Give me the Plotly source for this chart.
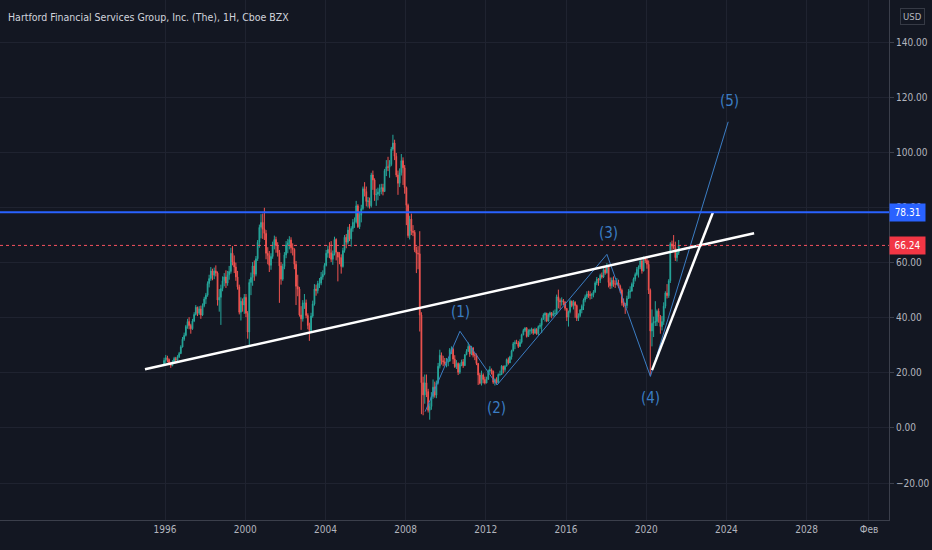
import datetime as dt
import plotly.graph_objects as go

# ---------------- data (monthly candles) ----------------
START_YEAR, START_MONTH = 1995, 12
FIRST_OPEN = 23.0
closes = [
    24.5,
    25.5, 24.8, 23.5, 22.6, 24.0, 25.2, 24.6, 25.8, 27.0, 29.4, 32.2, 33.6,
    36.8, 38.6, 37.2, 36.0, 38.8, 41.2, 43.8, 41.6, 43.2, 41.0, 44.4, 46.8,
    48.2, 52.4, 54.2, 57.0, 55.4, 57.0, 56.2, 46.4, 47.4, 50.6, 53.4, 54.8,
    52.6, 55.6, 56.8, 63.4, 60.2, 58.4, 54.8, 51.2, 42.0, 46.0, 44.6, 47.4,
    41.6, 34.8, 52.8, 54.6, 58.8, 55.8, 61.4, 67.4, 72.8, 74.6, 72.2, 70.6,
    63.4, 62.6, 59.0, 62.2, 66.4, 68.4, 66.2, 63.6, 58.8, 54.0, 58.6, 62.8,
    66.4, 67.2, 68.2, 65.4, 64.8, 59.4, 51.4, 50.4, 41.0, 39.6, 45.4, 45.4,
    40.8, 37.2, 35.4, 40.6, 45.0, 50.4, 49.8, 52.4, 52.6, 54.8, 55.8, 59.0,
    63.4, 64.8, 63.6, 61.2, 63.2, 68.4, 63.8, 62.0, 61.8, 58.6, 64.4, 69.2,
    67.4, 71.8, 68.6, 72.4, 74.6, 74.8, 80.6, 73.0, 77.2, 79.6, 86.8, 85.8,
    82.2, 82.4, 80.6, 91.8, 90.0, 84.6, 84.8, 85.6, 86.8, 87.2, 85.8, 93.4,
    94.8, 94.6, 95.6, 101.2, 103.4, 98.6, 91.8, 88.8, 92.6, 97.0, 94.4, 87.2,
    80.8, 69.8, 75.8, 71.4, 71.0, 64.6, 63.4, 63.2, 41.0, 16.4, 12.0, 16.4,
    13.2, 6.4, 7.8, 11.4, 14.8, 11.9, 16.4, 22.4, 26.4, 24.4, 24.0, 23.4,
    24.0, 24.2, 28.4, 28.6, 25.0, 22.2, 23.4, 20.2, 23.0, 24.0, 22.6, 26.6,
    27.8, 29.6, 26.9, 29.0, 26.4, 26.4, 23.4, 19.2, 16.2, 19.2, 17.6, 16.3,
    17.6, 20.6, 21.1, 20.6, 16.6, 17.6, 16.4, 19.4, 19.4, 22.4, 21.2, 22.4,
    24.8, 23.6, 25.8, 28.0, 30.6, 30.9, 30.8, 29.6, 31.1, 33.8, 35.4, 36.2,
    33.2, 35.2, 35.3, 35.8, 34.4, 35.8, 34.2, 36.8, 37.2, 39.6, 41.0, 41.6,
    38.8, 41.0, 41.8, 40.8, 41.4, 41.6, 47.6, 46.2, 45.8, 46.2, 45.6, 43.4,
    40.2, 42.2, 46.0, 44.4, 45.6, 44.4, 39.8, 40.8, 42.8, 44.2, 46.4, 47.6,
    48.6, 48.4, 48.1, 48.4, 49.4, 52.6, 54.0, 53.6, 55.4, 54.8, 57.4, 56.3,
    58.8, 52.8, 51.6, 53.6, 52.2, 52.2, 52.6, 51.4, 50.0, 45.4, 44.4, 44.4,
    47.0, 49.4, 49.7, 52.2, 54.0, 55.7, 57.6, 58.4, 60.6, 57.0, 61.8, 60.8,
    59.4, 50.0, 35.2, 38.0, 38.4, 38.6, 42.4, 40.4, 36.8, 38.6, 44.2, 49.0,
    48.0, 53.4, 66.8, 66.0, 65.4, 61.8, 63.6, 66.24,
]
highs = [
    25.5,
    26.5, 26.2, 25.2, 24.0, 24.6, 25.8, 25.8, 26.4, 27.6, 30.0, 33.0, 34.6,
    37.4, 39.6, 40.2, 37.8, 39.6, 42.0, 44.6, 44.0, 44.2, 44.4, 45.2, 47.6,
    49.0, 53.2, 55.6, 58.4, 57.8, 58.2, 59.0, 56.8, 50.4, 52.0, 55.0, 56.2,
    57.2, 57.0, 58.8, 65.4, 66.0, 62.6, 60.0, 57.0, 52.0, 47.4, 47.0, 48.6,
    48.6, 42.4, 54.0, 56.4, 60.2, 60.8, 62.4, 68.2, 73.8, 77.6, 77.8, 79.9,
    71.8, 65.6, 64.2, 63.4, 67.6, 69.8, 69.4, 67.4, 64.6, 60.2, 59.6, 63.8,
    67.8, 68.6, 69.6, 69.2, 67.0, 65.2, 60.6, 55.6, 51.2, 44.2, 46.4, 48.6,
    46.6, 41.6, 38.2, 41.8, 46.2, 52.2, 52.0, 53.4, 54.4, 56.6, 57.2, 59.8,
    64.6, 66.2, 67.4, 67.8, 64.4, 69.4, 68.8, 63.6, 63.8, 63.0, 65.4, 70.0,
    70.4, 73.0, 74.0, 73.2, 75.8, 76.4, 82.4, 81.2, 78.0, 81.0, 87.6, 89.2,
    87.6, 83.8, 83.6, 92.6, 93.4, 90.6, 86.8, 87.2, 88.4, 88.6, 88.6, 94.0,
    97.2, 98.4, 97.2, 102.0, 106.4, 104.6, 99.8, 93.4, 94.2, 99.4, 98.2, 95.4,
    87.6, 81.4, 77.0, 77.8, 73.6, 71.8, 65.8, 66.0, 71.4, 42.0, 18.6, 19.4,
    19.4, 14.2, 9.0, 13.0, 17.6, 16.8, 17.2, 23.6, 28.4, 27.4, 26.2, 25.4,
    25.4, 25.2, 29.0, 29.6, 29.2, 26.4, 24.6, 23.8, 23.6, 24.8, 25.0, 26.8,
    28.6, 31.0, 30.0, 29.8, 29.4, 27.2, 27.0, 23.6, 20.0, 20.8, 19.8, 18.6,
    18.6, 21.2, 22.4, 21.6, 20.8, 18.0, 18.4, 19.8, 20.8, 22.8, 22.6, 22.8,
    25.2, 25.6, 26.2, 28.4, 31.2, 31.8, 32.0, 31.6, 32.2, 34.2, 36.0, 36.6,
    36.6, 35.8, 36.0, 36.4, 36.0, 36.4, 36.2, 37.2, 38.0, 40.0, 41.6, 42.0,
    41.8, 41.6, 42.2, 42.0, 42.6, 43.0, 48.4, 50.2, 47.0, 47.4, 46.8, 46.0,
    43.4, 42.6, 46.6, 46.2, 46.4, 46.0, 44.8, 41.6, 43.2, 44.8, 47.0, 48.4,
    49.6, 49.8, 49.6, 49.0, 50.0, 53.2, 54.8, 54.4, 56.0, 56.4, 58.0, 58.4,
    59.8, 59.2, 54.6, 54.6, 55.0, 53.6, 54.4, 53.8, 52.0, 50.6, 47.0, 45.4,
    48.0, 50.4, 51.4, 52.8, 54.6, 56.4, 58.4, 59.0, 61.0, 61.2, 62.2, 62.0,
    61.6, 60.8, 50.6, 43.0, 40.4, 46.0, 43.0, 43.4, 41.0, 40.6, 45.6, 49.6,
    52.2, 54.0, 67.4, 68.0, 70.0, 67.6, 64.8, 68.2,
]
lows = [
    22.5,
    23.5, 23.8, 22.8, 21.8, 22.4, 23.6, 23.4, 24.2, 25.4, 26.8, 29.2, 31.6,
    33.2, 36.0, 35.8, 34.2, 35.6, 38.4, 40.8, 40.6, 41.0, 39.6, 40.6, 43.8,
    45.0, 47.6, 51.0, 53.4, 53.6, 54.0, 55.0, 44.4, 42.2, 37.4, 49.6, 51.4,
    50.8, 51.6, 53.8, 56.0, 59.0, 56.2, 53.4, 50.2, 41.2, 39.0, 42.2, 41.4,
    40.2, 32.4, 29.6, 48.2, 51.6, 53.4, 55.0, 60.6, 65.4, 68.8, 68.6, 68.2,
    61.2, 59.4, 56.6, 57.4, 61.4, 64.8, 63.6, 62.2, 45.4, 52.0, 53.4, 57.6,
    61.6, 63.4, 64.8, 63.4, 62.6, 57.6, 44.6, 47.8, 40.4, 35.6, 38.6, 43.2,
    39.8, 35.8, 31.6, 34.8, 40.0, 44.4, 48.0, 48.8, 50.8, 51.8, 53.8, 55.4,
    58.6, 61.8, 61.6, 60.2, 59.2, 62.6, 60.8, 53.2, 59.4, 56.0, 58.2, 63.6,
    65.2, 66.6, 67.8, 65.8, 71.2, 72.6, 74.2, 72.6, 72.2, 74.6, 79.0, 84.0,
    80.4, 80.0, 79.6, 80.0, 86.4, 82.4, 80.6, 82.6, 84.2, 84.8, 84.4, 85.6,
    91.4, 93.2, 90.8, 95.0, 100.6, 97.2, 91.0, 84.6, 87.4, 91.6, 88.2, 85.0,
    73.6, 69.0, 68.4, 70.0, 69.6, 63.8, 56.2, 57.6, 35.0, 5.0, 4.6, 8.8,
    11.2, 5.6, 3.0, 6.6, 10.6, 11.0, 10.8, 15.8, 21.6, 23.0, 22.4, 22.6,
    22.0, 22.4, 24.2, 26.8, 23.2, 21.8, 21.4, 19.2, 19.6, 22.4, 21.8, 22.8,
    26.4, 27.6, 25.8, 26.4, 25.6, 24.6, 22.8, 15.6, 15.8, 15.4, 16.2, 15.8,
    16.2, 17.6, 19.8, 19.4, 16.0, 15.4, 15.8, 16.2, 18.8, 19.2, 19.8, 20.4,
    22.6, 23.0, 23.6, 24.8, 27.8, 28.6, 30.4, 29.0, 29.4, 30.6, 33.6, 34.8,
    32.8, 33.0, 33.8, 34.2, 33.8, 34.2, 33.8, 33.6, 36.0, 34.4, 39.2, 38.6,
    38.4, 38.6, 40.2, 39.8, 40.4, 40.6, 41.0, 43.4, 43.0, 44.4, 44.6, 42.6,
    38.8, 36.8, 41.6, 43.8, 43.0, 40.0, 38.8, 38.8, 40.2, 41.6, 42.8, 45.6,
    46.8, 47.2, 46.6, 46.8, 47.4, 49.0, 51.8, 51.6, 52.6, 54.2, 54.4, 55.6,
    56.0, 51.0, 50.4, 50.6, 51.2, 50.8, 51.8, 50.8, 49.0, 44.4, 43.8, 41.4,
    43.4, 46.8, 47.0, 49.4, 51.2, 53.2, 55.2, 54.6, 57.6, 56.0, 56.8, 59.8,
    57.8, 48.6, 19.0, 29.6, 33.0, 37.0, 37.0, 38.2, 34.2, 35.4, 37.4, 43.4,
    47.0, 47.2, 52.6, 64.6, 64.8, 60.6, 60.4, 62.8,
]

# drawings (decimal year, price)
TREND_X = [1995.00, 2025.38]
TREND_Y = [21.3, 70.65]
FAN_X = [2020.29, 2023.33]
FAN_Y = [21.0, 78.3]
WAVE_X = [2008.97, 2010.71, 2012.56, 2018.04, 2020.21, 2024.09]
WAVE_Y = [5.9, 35.1, 15.6, 63.0, 18.7, 111.1]
WAVE_LABELS = ["(1)", "(2)", "(3)", "(4)", "(5)"]
WAVE_LABEL_X = [2010.74, 2012.51, 2018.10, 2020.19, 2024.13]
WAVE_LABEL_Y = [42.2, 7.3, 70.8, 10.9, 118.8]
RESIST = 78.31
LAST = 66.24

XTICK_YEARS = [1996, 2000, 2004, 2008, 2012, 2016, 2020, 2024, 2028]
XTICK_TEXT = ["1996", "2000", "2004", "2008", "2012", "2016", "2020", "2024", "2028", "Фев"]
YTICKS = [-20, 0, 20, 40, 60, 80, 100, 120, 140]
TITLE = "Hartford Financial Services Group, Inc. (The), 1H, Cboe BZX"


def yr(d):
    y = int(d)
    start = dt.datetime(y, 1, 1)
    end = dt.datetime(y + 1, 1, 1)
    return start + (end - start) * (d - y)


# monthly dates
dates = []
y, m = START_YEAR, START_MONTH
for _ in closes:
    dates.append(dt.datetime(y, m, 15))
    m += 1
    if m > 12:
        m = 1
        y += 1
opens = [FIRST_OPEN] + closes[:-1]
highs_c = [max(h, o, c) for h, o, c in zip(highs, opens, closes)]
lows_c = [min(l, o, c) for l, o, c in zip(lows, opens, closes)]

BG = "#131722"
GRID = "#1f2330"
AXIS = "#3b3f4b"
TXT = "#b2b5be"
FONT = "Liberation Sans Narrow, DejaVu Sans Condensed, Roboto, sans-serif"
UP, DN = "#26a69a", "#ef5350"
WAVE_C = "#3b7dc4"

fig = go.Figure()
fig.add_trace(go.Candlestick(
    x=dates, open=opens, high=highs_c, low=lows_c, close=closes,
    increasing=dict(line=dict(color=UP, width=1), fillcolor=UP),
    decreasing=dict(line=dict(color=DN, width=1), fillcolor=DN),
    whiskerwidth=0, showlegend=False, hoverinfo="skip",
))
fig.add_trace(go.Scatter(x=[yr(v) for v in WAVE_X], y=WAVE_Y, mode="lines",
                         line=dict(color=WAVE_C, width=1), showlegend=False, hoverinfo="skip"))
fig.add_trace(go.Scatter(x=[yr(v) for v in TREND_X], y=TREND_Y, mode="lines",
                         line=dict(color="#ffffff", width=2.5), showlegend=False, hoverinfo="skip"))
fig.add_trace(go.Scatter(x=[yr(v) for v in FAN_X], y=FAN_Y, mode="lines",
                         line=dict(color="#ffffff", width=2.5), showlegend=False, hoverinfo="skip"))

fig.add_hline(y=LAST, line=dict(color="#f7525f", width=1, dash="dot"))
fig.add_hline(y=RESIST, line=dict(color="#2962ff", width=2))

for t, lx, ly in zip(WAVE_LABELS, WAVE_LABEL_X, WAVE_LABEL_Y):
    fig.add_annotation(x=yr(lx), y=ly, text=t, showarrow=False,
                       font=dict(family=FONT, size=15, color=WAVE_C))

fig.add_annotation(xref="paper", yref="paper", x=6 / 889, y=1 - 17 / 520, text=TITLE,
                   showarrow=False, xanchor="left", yanchor="middle",
                   font=dict(family=FONT, size=10.5, color="#d1d4dc"))
fig.add_annotation(xref="paper", yref="paper", x=900 / 889, y=1 - 16 / 520, text="USD",
                   showarrow=False, xanchor="left", yanchor="middle",
                   bordercolor="#363a45", borderwidth=1, borderpad=2,
                   font=dict(family=FONT, size=9.5, color=TXT))
for val, col in [(RESIST, "#2962ff"), (LAST, "#f23645")]:
    fig.add_annotation(xref="paper", yref="y", x=1.0, y=val, text=f"{val:.2f}",
                       showarrow=False, xanchor="left", yanchor="middle",
                       bgcolor=col, borderpad=3, width=29,
                       font=dict(family=FONT, size=10, color="#ffffff"))

tickvals = [dt.datetime(v, 1, 1) for v in XTICK_YEARS] + [dt.datetime(2031, 2, 10)]
fig.update_layout(
    width=932, height=550,
    margin=dict(l=0, r=43, t=0, b=30, autoexpand=False),
    paper_bgcolor=BG, plot_bgcolor=BG,
    font=dict(family=FONT, size=10, color=TXT),
    xaxis=dict(type="date", range=[yr(1987.77), yr(2032.11)], rangeslider=dict(visible=False),
               tickvals=tickvals, ticktext=XTICK_TEXT, showgrid=True, gridcolor=GRID,
               gridwidth=1, zeroline=False, showline=True, linecolor=AXIS, linewidth=1,
               ticks="", tickfont=dict(size=10, color=TXT), fixedrange=True),
    yaxis=dict(side="right", range=[-33.4, 155.3], tickvals=YTICKS, tickformat=".2f",
               showgrid=True, gridcolor=GRID, gridwidth=1, zeroline=False,
               showline=True, linecolor=AXIS, linewidth=1, ticks="outside", ticklen=4,
               tickcolor=AXIS, tickfont=dict(size=10, color=TXT), fixedrange=True),
    hovermode=False,
)
fig.write_html(
    "out.html",
    config={"displayModeBar": False},
    post_script="document.body.style.margin='0';document.body.style.padding='0';"
                "document.body.style.background='#131722';"
                "document.documentElement.style.background='#131722';",
)
